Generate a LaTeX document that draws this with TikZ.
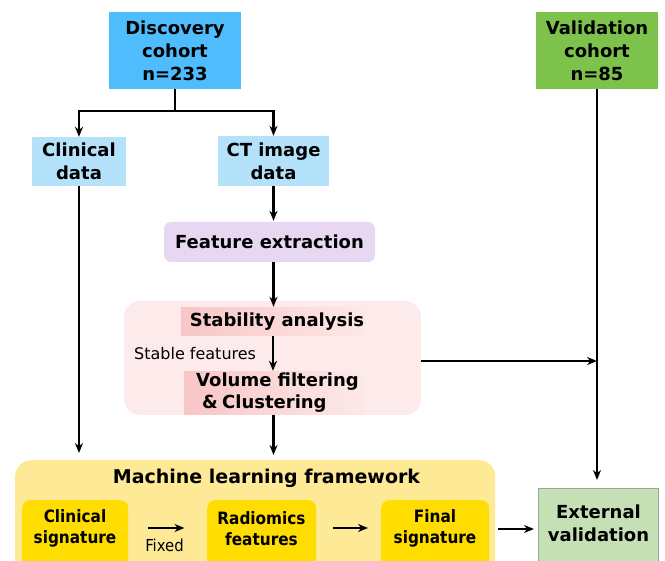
\documentclass[tikz,border=0pt]{standalone}
\usepackage{fontspec}
\setmainfont{DejaVu Sans}
\newfontfamily\condfont[FakeStretch=0.9]{DejaVu Sans}
\usetikzlibrary{arrows.meta}
\definecolor{discblue}{HTML}{4FBCFD}
\definecolor{lightblue}{HTML}{B3E2FA}
\definecolor{valgreen}{HTML}{7DC24B}
\definecolor{lavender}{HTML}{E8D7F0}
\definecolor{pinkbg}{HTML}{FDEAEA}
\definecolor{pinkdark}{HTML}{F8C6C6}
\definecolor{pinklight}{HTML}{FDE8E8}
\definecolor{mlyellow}{HTML}{FDE996}
\definecolor{ybox}{HTML}{FFDD00}
\definecolor{extgreen}{HTML}{C5E0B4}
\definecolor{extborder}{HTML}{A0A0A0}
\tikzset{
  bigtext/.style={font=\bfseries\fontsize{18}{23}\selectfont, align=center, inner sep=0pt},
  smalltext/.style={font=\condfont\bfseries\fontsize{17}{21}\selectfont, align=center, inner sep=0pt},
  arr/.style={-{Stealth[length=10pt,width=8pt]}, line width=2.2pt},
  plainline/.style={line width=2.2pt}
}
\begin{document}
\begin{tikzpicture}[x=1pt,y=-1pt]
\useasboundingbox (0,0) rectangle (665,561);
\clip (0,0) rectangle (665,561);

% top boxes
\node[bigtext, fill=discblue, minimum width=132pt, minimum height=77pt] (disc) at (175,50.5) {Discovery\\cohort\\n=233};
\node[bigtext, fill=valgreen, minimum width=122pt, minimum height=77pt] (val) at (597,50.5) {Validation\\cohort\\n=85};

\node[bigtext, fill=lightblue, minimum width=94pt, minimum height=49pt] (clin) at (79,161.5) {Clinical\\data};
\node[bigtext, fill=lightblue, minimum width=111pt, minimum height=50pt] (ct) at (273.5,161) {CT image\\data};

\node[bigtext, fill=lavender, rounded corners=7pt, minimum width=211pt, minimum height=40pt] (fe) at (269.5,242) {Feature extraction};

% pink group
\node[fill=pinkbg, rounded corners=16pt, minimum width=297pt, minimum height=114pt, inner sep=0pt] (big) at (272.5,358) {};
\node[left color=pinkdark, right color=pinklight, minimum width=184pt, minimum height=28pt, inner sep=0pt] (stab) at (273,322) {};
\node[bigtext] (stabt) at (277,322) {Stability analysis};
\node[left color=pinkdark, right color=pinklight, minimum width=178pt, minimum height=43pt, inner sep=0pt] (vol) at (273,393.5) {};
\node[bigtext, align=left] (volt) at (277.5,392.5) {Volume filtering\\[-1pt]\hspace{6pt}\&\hspace{-2pt} Clustering};
\node[font=\fontsize{16}{19}\selectfont, anchor=west, inner sep=0pt] (stl) at (134,354) {Stable features};

% ML framework
\node[fill=mlyellow, rounded corners=16pt, minimum width=480pt, minimum height=130pt, inner sep=0pt, anchor=north west] (ml) at (15,460) {};
\node[font=\bfseries\fontsize{19}{23}\selectfont, inner sep=0pt] (mlt) at (266.5,478) {Machine learning framework};

\node[fill=ybox, rounded corners=8pt, minimum width=106pt, minimum height=90pt, inner sep=0pt, anchor=north west] (csigbox) at (22,500) {};
\node[smalltext] (csig) at (75,528.5) {Clinical\\signature};
\node[fill=ybox, rounded corners=8pt, minimum width=109pt, minimum height=90pt, inner sep=0pt, anchor=north west] (radbox) at (207,500) {};
\node[smalltext] (rad) at (261.5,528.5) {Radiomics\\features};
\node[fill=ybox, rounded corners=8pt, minimum width=108pt, minimum height=90pt, inner sep=0pt, anchor=north west] (finbox) at (381,500) {};
\node[smalltext] (fin) at (435,528.5) {Final\\signature};
\node[font=\condfont\fontsize{16.5}{19}\selectfont, inner sep=0pt] (fixed) at (164.5,545) {Fixed};

\node[fill=extgreen, draw=extborder, line width=1pt, minimum width=120pt, minimum height=100pt, inner sep=0pt, anchor=north] (ext) at (598.5,488) {};
\node[bigtext] (extt) at (598.5,523) {External\\validation};

% connectors
\draw[plainline] (disc.south) -- ++(0,21.5) coordinate (split);
\draw[arr] (split) -| (clin.north);
\draw[arr] (split) -| (ct.north);
\draw[arr, shorten >=7pt] (clin.south) -- (clin.south |- ml.north);
\draw[arr, shorten >=1pt] (ct.south) -- (ct.south |- fe.north);
\draw[arr, shorten >=1pt] (ct.south |- fe.south) -- (ct.south |- stab.north);
\draw[arr, shorten >=1pt] (stab.south) -- (vol.north);
\draw[arr, shorten >=5pt] (ct.south |- big.south) -- (ct.south |- ml.north);
\draw[arr, shorten >=8pt] (val.south) -- (val.south |- ext.north);
\coordinate (bigr) at (421,361);
\draw[arr] (bigr) -- (bigr -| val.south);

\draw[arr] (147.5,528) coordinate (fa) -- (184.5,528) coordinate (fb);
\draw[arr] (333,528) coordinate (ga) -- (368,528) coordinate (gb);
\draw[arr] (498,529) coordinate (ha) -- (534,529) coordinate (hb);
\end{tikzpicture}
\end{document}
